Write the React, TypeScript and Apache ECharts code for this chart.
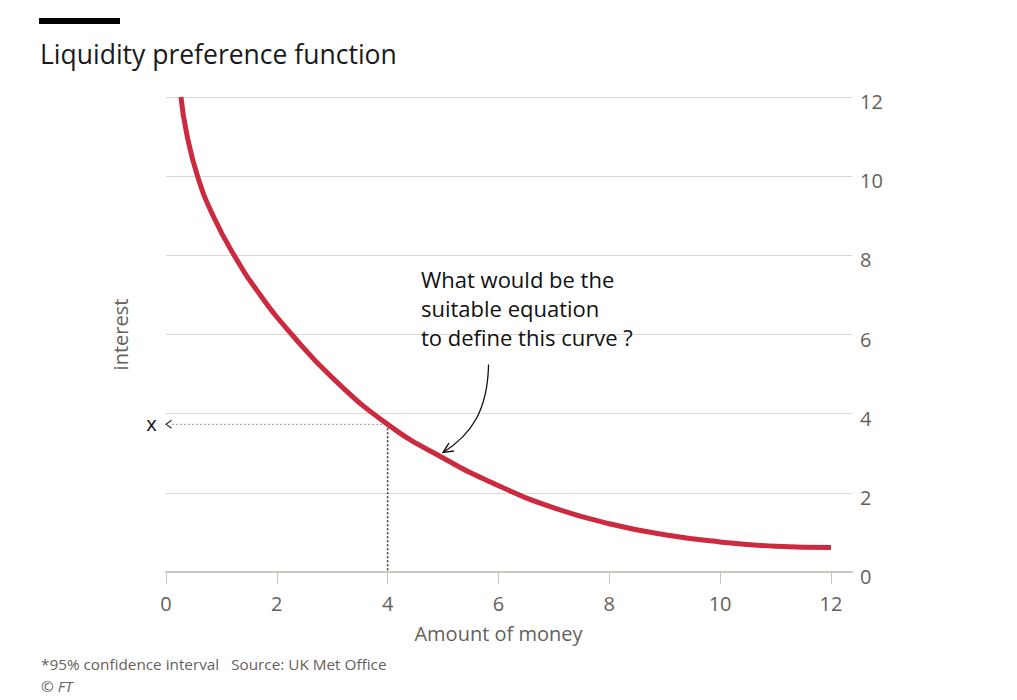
import React, { useEffect, useRef } from "react";
import * as echarts from "echarts";

// ---- data ----
const X_TICKS = [0, 2, 4, 6, 8, 10, 12];
const MONEY = [0.27, 0.37, 0.57, 0.85, 1.23, 1.7, 2.27, 3, 4, 5, 6, 7, 8, 9, 10, 11, 12];
const INTEREST = [12, 11.1, 10, 9, 8, 7, 6, 4.91, 3.73, 2.88, 2.18, 1.62, 1.22, 0.94, 0.76, 0.65, 0.62];
const GUIDE_MONEY = 4;
const GUIDE_INTEREST = 3.73;
const GUIDE_START = 0.11;
const ARROW_TIP = [5.0, 3.02];
const X_MIN = 0;
const X_MAX = 12.38;
const Y_MIN = 0;
const Y_MAX = 12;
const Y_INTERVAL = 2;

const TITLE = "Liquidity preference function";
const ANNOTATION = "What would be the\nsuitable equation\nto define this curve ?";
const X_NAME = "Amount of money";
const Y_NAME = "interest";
const FOOTNOTE = "*95% confidence interval   Source: UK Met Office";

const FONT = "'Open Sans', 'Noto Sans', sans-serif";
const GREY = "#66605c";

export default function App() {
  const ref = useRef<HTMLDivElement>(null);

  useEffect(() => {
    if (!ref.current) return;
    const chart = echarts.init(ref.current, null, { renderer: "svg" });
    const curve = MONEY.map((x, i) => [x, INTEREST[i]]);

    chart.setOption({
      animation: false,
      grid: { left: 166, top: 97, width: 686, height: 475, containLabel: false },
      xAxis: [
        {
          type: "value",
          min: X_MIN,
          max: X_MAX,
          axisLine: { show: true, onZero: false, lineStyle: { color: "#cdc8c2", width: 2 } },
          axisTick: { show: false },
          axisLabel: { show: false },
          splitLine: { show: false },
        },
        {
          type: "value",
          min: X_MIN,
          max: X_MAX,
          position: "bottom",
          offset: 7,
          axisLine: { show: false },
          axisTick: {
            show: true,
            length: 12,
            customValues: X_TICKS,
            lineStyle: { color: "#c9c3bd", width: 1 },
          },
          axisLabel: {
            customValues: X_TICKS,
            margin: 14,
            fontSize: 20,
            color: GREY,
            fontFamily: FONT,
            formatter: (v: number) => (X_TICKS.indexOf(v) >= 0 ? String(v) : ""),
          },
          splitLine: { show: false },
        },
      ],
      yAxis: [
        {
          type: "value",
          position: "right",
          min: Y_MIN,
          max: Y_MAX,
          interval: Y_INTERVAL,
          axisLine: { show: false },
          axisTick: { show: false },
          axisLabel: {
            margin: 8,
            fontSize: 20,
            color: GREY,
            fontFamily: FONT,
            verticalAlign: "top",
            lineHeight: 9,
          },
          splitLine: { show: true, lineStyle: { color: "#ddd7cf", width: 1 } },
        },
        {
          type: "value",
          position: "left",
          min: Y_MIN,
          max: Y_MAX,
          axisLine: { show: false },
          axisTick: { show: false },
          axisLabel: { show: false },
          splitLine: { show: false },
          name: Y_NAME,
          nameLocation: "middle",
          nameGap: 36,
          nameRotate: 90,
          nameTextStyle: { fontSize: 20, color: GREY, fontFamily: FONT },
        },
      ],
      series: [
        {
          type: "line",
          data: [
            [GUIDE_START, GUIDE_INTEREST],
            [GUIDE_MONEY, GUIDE_INTEREST],
          ],
          showSymbol: false,
          silent: true,
          lineStyle: { color: "#9d9894", width: 1, type: [2, 2] },
          z: 1,
        },
        {
          type: "line",
          data: [
            [GUIDE_MONEY, GUIDE_INTEREST],
            [GUIDE_MONEY, 0],
          ],
          showSymbol: false,
          silent: true,
          lineStyle: { color: "#333333", width: 1.5, type: [2, 2] },
          z: 1,
        },
        {
          type: "line",
          data: curve,
          smooth: 0.5,
          showSymbol: false,
          lineStyle: { color: "#cc2a3e", width: 5 },
          z: 3,
        },
      ],
    });

    const px = (p: number[]) => chart.convertToPixel({ gridIndex: 0 }, p) as number[];
    const g = px([0, GUIDE_INTEREST]);
    const tip = px(ARROW_TIP);
    const mid = px([6, 0]);

    const bx = tip[0];
    const by = tip[1];

    chart.setOption({
      graphic: [
        { type: "rect", shape: { x: 39, y: 18, width: 81, height: 6 }, style: { fill: "#000" } },
        {
          type: "text",
          x: 40,
          y: 53.5,
          style: { text: TITLE, fontSize: 26.5, fontFamily: FONT, fill: "#1a1a1a", verticalAlign: "middle" },
        },
        {
          type: "text",
          x: 421,
          y: 264.5,
          style: { text: ANNOTATION, fontSize: 22, lineHeight: 29, fontFamily: FONT, fill: "#111", verticalAlign: "top" },
        },
        {
          type: "bezierCurve",
          shape: {
            x1: bx + 45.5,
            y1: by - 88,
            cpx1: bx + 44.5,
            cpy1: by - 42,
            cpx2: bx + 28.5,
            cpy2: by - 18,
            x2: bx,
            y2: by,
          },
          style: { stroke: "#111", lineWidth: 1.3, fill: null },
        },
        {
          type: "polyline",
          shape: { points: [[bx + 5.9, by - 9.3], [bx, by], [bx + 10.9, by - 1.4]] },
          style: { stroke: "#111", lineWidth: 1.4, fill: null },
        },
        {
          type: "polyline",
          shape: { points: [[g[0] + 5.5, g[1] - 4], [g[0], g[1]], [g[0] + 5.5, g[1] + 4]] },
          style: { stroke: "#333", lineWidth: 1.2, fill: null },
        },
        {
          type: "text",
          x: g[0] - 14.5,
          y: g[1] - 1,
          style: { text: "x", fontSize: 20, fontFamily: FONT, fill: "#111", align: "center", verticalAlign: "middle" },
        },
        {
          type: "text",
          x: mid[0],
          y: 633,
          style: { text: X_NAME, fontSize: 20, fontFamily: FONT, fill: GREY, align: "center", verticalAlign: "middle" },
        },
        {
          type: "text",
          x: 41,
          y: 664.4,
          style: { text: FOOTNOTE, fontSize: 15.3, fontFamily: FONT, fill: GREY, verticalAlign: "middle" },
        },
        {
          type: "text",
          x: 41,
          y: 686,
          style: {
            text: "{a|© }{b|FT}",
            verticalAlign: "middle",
            rich: {
              a: { fontSize: 15.3, fontFamily: FONT, fill: GREY },
              b: { fontSize: 15.3, fontFamily: FONT, fill: GREY, fontStyle: "italic" },
            },
          },
        },
      ],
    });

    return () => {
      chart.dispose();
    };
  }, []);

  return (
    <div
      ref={ref}
      style={{ position: "fixed", left: 0, top: 0, width: 1017, height: 700, background: "#fff" }}
    />
  );
}
